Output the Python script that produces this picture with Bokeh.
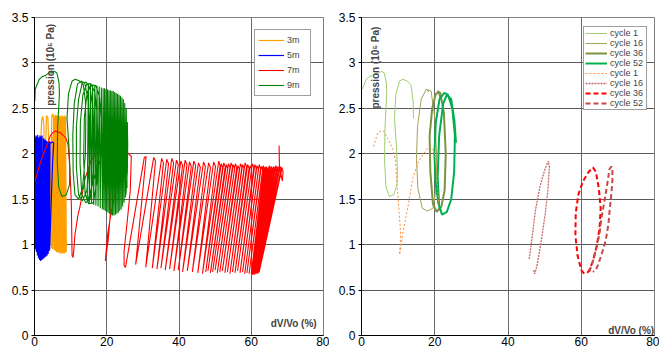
import math
from bokeh.plotting import figure
from bokeh.models import Range1d, Label, Legend, LegendItem, FixedTicker
from bokeh.layouts import row
from bokeh.embed import file_html
from bokeh.resources import INLINE

FONT = "Liberation Sans"

# ---------------- axes ----------------
x_ticks = [0, 20, 40, 60, 80]
x_tick_labels = ["0", "20", "40", "60", "80"]
y_ticks = [0, 0.5, 1, 1.5, 2, 2.5, 3, 3.5]
y_tick_labels = ["0", "0.5", "1", "1.5", "2", "2.5", "3", "3.5"]

# ---------------- left panel : depth series ----------------
m3_x = [1.5, 1.8, 2.0, 2.3, 2.6, 2.7, 2.9,
        3.0, 3.3, 3.7, 4.0, 4.3,
        4.5, 4.8, 5.1, 5.4, 5.4, 5.0, 4.5, 4.7, 4.9, 5.1,
        5.3, 5.5, 5.6, 5.8, 5.9, 6.1, 6.2, 6.4, 6.5, 6.7, 6.8, 7.0, 7.1, 7.3, 7.4, 7.6, 7.7, 7.9,
        8.0, 8.2, 8.3, 8.5, 8.6, 8.8, 8.8]
m3_p = [1.30, 2.20, 2.38, 2.41, 2.30, 1.60, 1.00,
        1.90, 2.42, 2.40, 2.00, 1.00,
        1.80, 2.42, 2.44, 2.35, 1.20, 0.95, 2.00, 0.96, 2.20, 0.95,
        2.40, 0.94, 2.42, 0.93, 2.43, 0.92, 2.42, 0.91, 2.42, 0.92, 2.41, 0.90, 2.42, 0.91, 2.41, 0.90, 2.42, 0.91,
        2.41, 0.90, 2.42, 0.91, 2.41, 0.92, 1.05]

m5_x = [0.1, 0.2, 0.3, 0.4, 0.5, 0.7, 0.8, 0.9, 1.1, 1.2, 1.4, 1.5, 1.7, 1.8, 2.0, 2.1, 2.3, 2.5,
        2.6, 2.8, 2.9, 3.1, 3.2, 3.4, 3.5, 3.7, 3.8, 4.0, 4.1, 4.3, 4.6, 5.0, 5.3, 5.0, 4.4, 4.2]
m5_p = [0.96, 2.18, 0.95, 2.20, 0.92, 2.19, 0.88, 2.21, 0.85, 2.18, 0.83, 2.20, 0.82, 2.19, 0.83, 2.20, 0.84, 2.17,
        0.85, 2.16, 0.86, 2.15, 0.87, 2.14, 0.88, 2.13, 0.90, 2.14, 0.93, 2.13, 2.12, 2.13, 2.12, 1.90, 1.20, 0.95]

# 7m: first loadings (continuous trace, cycles 1-3)
m7_head_x = [0.1, 0.6, 1.2, 2.1, 2.8, 3.5, 4.4, 5.2, 5.8, 6.5, 7.2, 8.0, 8.6, 9.3, 9.6, 9.9, 10.2, 10.3,
             10.4, 10.7, 10.9, 11.2, 12.0, 12.6, 14.0, 15.6, 17.5, 18.5, 19.4, 20.3, 20.8, 21.0, 20.4, 19.6,
             20.2, 21.0, 22.5, 23.8, 25.0, 25.8, 26.8, 26.5, 25.6, 24.8, 24.8]
m7_head_p = [1.70, 1.76, 1.85, 1.96, 2.03, 2.10, 2.20, 2.24, 2.25, 2.24, 2.23, 2.20, 2.18, 2.10, 1.95, 1.75, 1.45, 1.15,
             0.88, 0.86, 0.95, 1.11, 1.32, 1.42, 1.73, 1.92, 2.03, 2.09, 2.05, 1.95, 1.62, 1.34, 1.05, 0.82,
             1.10, 1.30, 1.60, 1.78, 1.95, 2.01, 1.97, 1.59, 1.23, 0.93, 0.77]
# 7m: following cycles -- bottom (start of reloading), peak, and end of the flat top of each cycle
m7_bot_x = [25.2, 28.0, 30.8, 32.6, 33.9, 35.0, 36.2, 37.4, 38.6, 39.8, 41.0, 42.3, 43.7, 45.2, 46.5,
            47.4, 48.0, 48.7, 49.3, 50.0, 50.6, 51.3, 52.0, 52.7, 53.4, 54.1, 54.8, 55.5, 56.2, 56.9, 57.6,
            58.2, 58.8, 59.4,
            60.0, 60.2, 60.3, 60.5, 60.6, 60.8, 60.9, 61.1, 61.2, 61.4, 61.5, 61.6, 61.8, 61.9, 62.0, 62.1, 62.2]
m7_bot_p = [0.75, 0.78, 0.75, 0.74, 0.73, 0.74, 0.72, 0.73, 0.71, 0.72, 0.70, 0.71, 0.70, 0.69, 0.68,
            0.70, 0.71, 0.69, 0.70, 0.72, 0.69, 0.70, 0.71, 0.69, 0.70, 0.68, 0.70, 0.69, 0.71, 0.69, 0.70,
            0.68, 0.69, 0.68,
            0.68, 0.67, 0.68, 0.67, 0.68, 0.69, 0.67, 0.68, 0.70, 0.68, 0.69, 0.70, 0.68, 0.70, 0.69, 0.71, 0.70]
m7_top_x = [30.4, 33.0, 35.2, 36.6, 38.0, 39.3, 40.5, 41.7, 42.9, 44.1, 45.4, 46.8, 48.2, 49.6, 51.0,
            51.7, 52.4, 53.1, 53.7, 54.4, 55.0, 55.6, 56.3, 57.0, 57.6, 58.3, 59.0, 59.7, 60.3, 61.0, 61.6,
            62.2, 62.8, 63.3,
            63.5, 63.8, 64.1, 64.4, 64.7, 65.0, 65.3, 65.6, 65.9, 66.2, 66.5, 66.8, 67.1, 67.4, 67.7, 68.0, 68.5]
m7_top_p = [1.96, 1.96, 1.95, 1.94, 1.95, 1.93, 1.92, 1.93, 1.91, 1.92, 1.90, 1.91, 1.90, 1.91, 1.92,
            1.89, 1.90, 1.88, 1.89, 1.90, 1.88, 1.89, 1.87, 1.89, 1.88, 1.90, 1.88, 1.87, 1.89, 1.88, 1.87,
            1.88, 1.86, 1.87,
            1.84, 1.85, 1.86, 1.84, 1.85, 1.87, 1.85, 1.86, 1.84, 1.86, 1.85, 1.87, 1.85, 1.86, 1.84, 1.86, 1.85]
m7_shoulder_x = [30.9, 33.5, 35.7, 37.1, 38.5, 39.8, 41.0, 42.2, 43.4, 44.6, 45.9, 47.3, 48.7, 50.1, 51.4,
                 52.1, 52.8, 53.5, 54.1, 54.8, 55.4, 56.0, 56.7, 57.4, 58.0, 58.7, 59.4, 60.1, 60.7, 61.4, 62.0,
                 62.6, 63.2, 63.7,
                 63.9, 64.2, 64.5, 64.8, 65.1, 65.4, 65.7, 66.0, 66.3, 66.6, 66.9, 67.2, 67.5, 67.8, 68.1, 68.4, 68.8]
m7_shoulder_p = [1.97, 1.92, 1.90, 1.89, 1.90, 1.88, 1.87, 1.88, 1.86, 1.87, 1.85, 1.86, 1.85, 1.86, 1.87,
                 1.85, 1.86, 1.84, 1.85, 1.86, 1.84, 1.85, 1.83, 1.85, 1.84, 1.86, 1.84, 1.83, 1.85, 1.84, 1.83,
                 1.84, 1.82, 1.83,
                 1.80, 1.81, 1.82, 1.80, 1.81, 1.83, 1.81, 1.82, 1.80, 1.82, 1.81, 1.83, 1.81, 1.82, 1.80, 1.82, 1.80]
m7_tail_x = [68.6, 67.8, 67.7, 67.8]
m7_tail_p = [1.70, 1.86, 2.09, 1.90]

# 9m cycle 1 (shared with right panel)
c1_9m_x = [0.2, 1.3, 2.2, 3.0, 4.0, 4.9, 5.4, 6.2, 6.8, 6.9, 6.4, 6.3, 6.7, 7.6, 8.8, 9.7, 9.8, 9.5,
           9.0, 9.4, 10.4, 11.3, 12.5, 13.5, 14.1, 14.2]
c1_9m_p = [2.71, 2.82, 2.85, 2.86, 2.89, 2.89, 2.91, 2.89, 2.78, 2.66, 2.28, 1.92, 1.63, 1.53, 1.55, 1.66, 1.84, 2.10,
           2.39, 2.66, 2.80, 2.82, 2.80, 2.76, 2.58, 2.39]
m9_start_x = [0.1]
m9_start_p = [2.58]
m9_loops_x = [14.1, 13.3, 12.2, 11.2, 10.7, 10.6, 11.0, 11.9, 12.9, 13.9, 14.8, 15.3,
              15.2, 14.5, 13.3, 12.2, 11.6, 11.6, 12.2, 13.2, 14.3, 15.4, 16.2, 16.5,
              16.3, 15.4, 14.2, 13.1, 12.6, 12.7, 13.4, 14.5, 15.6, 16.7, 17.3, 17.6,
              17.3, 16.3, 15.0, 14.0, 13.6, 13.8, 14.6, 15.8, 17.0, 18.0, 18.5, 18.6]
m9_loops_p = [2.00, 1.62, 1.50, 1.55, 1.80, 2.20, 2.55, 2.77, 2.80, 2.78, 2.60, 2.30,
              1.90, 1.60, 1.48, 1.55, 1.85, 2.30, 2.60, 2.78, 2.79, 2.72, 2.50, 2.20,
              1.80, 1.50, 1.46, 1.55, 1.90, 2.35, 2.65, 2.77, 2.77, 2.68, 2.45, 2.10,
              1.70, 1.46, 1.45, 1.56, 1.95, 2.40, 2.68, 2.76, 2.75, 2.62, 2.35, 2.00]
m9_dense_x = [14.6, 14.9, 15.2, 15.5, 15.8, 16.1, 16.4, 16.7, 17.0, 17.3, 17.6, 17.9, 18.2, 18.5, 18.8,
              19.0, 19.2, 19.4, 19.6, 19.8, 20.0, 20.2, 20.4, 20.6, 20.8, 21.0, 21.2, 21.4, 21.6, 21.8,
              22.0, 22.2, 22.4, 22.6, 22.8, 23.0, 23.2, 23.4, 23.6, 23.8, 24.0, 24.2, 24.4, 24.6, 24.8,
              25.0, 25.2, 25.4, 25.6, 25.7, 25.8, 25.7, 25.3]
m9_dense_p = [1.47, 2.77, 1.46, 2.77, 1.45, 2.76, 1.44, 2.76, 1.43, 2.75, 1.42, 2.74, 1.40, 2.73, 1.39,
              2.72, 1.38, 2.72, 1.37, 2.71, 1.36, 2.71, 1.35, 2.70, 1.34, 2.70, 1.33, 2.69, 1.32, 2.69,
              1.32, 2.68, 1.33, 2.67, 1.34, 2.66, 1.35, 2.65, 1.37, 2.64, 1.39, 2.62, 1.42, 2.60, 1.46,
              2.56, 1.52, 2.50, 1.62, 2.35, 2.10, 1.80, 1.55]

depth_labels = ["3m", "5m", "7m", "9m"]
depth_colors = ["#FFA000", "#0000FF", "#FF0000", "#008000"]

# ---------------- right panel : selected cycles ----------------
g16_x = [17.7, 19.0, 20.0, 20.5, 20.3, 19.5, 18.0, 16.6, 15.4, 15.0, 15.3, 16.3, 17.7, 18.4]
g16_p = [2.71, 2.69, 2.40, 2.00, 1.60, 1.40, 1.37, 1.40, 1.62, 1.95, 2.30, 2.60, 2.71, 2.68]
g36_x = [20.7, 21.5, 22.5, 23.0, 22.7, 21.8, 20.5, 19.5, 18.8, 18.6, 19.3, 20.3, 21.2, 21.6]
g36_p = [2.69, 2.67, 2.45, 2.00, 1.60, 1.42, 1.36, 1.45, 1.80, 2.20, 2.50, 2.66, 2.68, 2.60]
g52_x = [21.8, 21.0, 20.2, 19.9, 20.3, 21.3, 22.6, 23.6, 24.8, 25.5, 25.3, 24.5, 23.3, 22.0, 21.2, 20.8,
         21.2, 22.3, 23.3, 24.5, 25.4, 25.8]
g52_p = [1.36, 1.45, 1.70, 2.00, 2.35, 2.60, 2.67, 2.65, 2.50, 2.20, 1.80, 1.50, 1.36, 1.33, 1.42, 1.75,
         2.20, 2.55, 2.65, 2.60, 2.35, 2.12]
r1_x = [3.3, 4.4, 5.2, 6.0, 7.1, 8.5, 9.3, 9.8, 10.2, 10.7, 10.4, 11.2, 12.6, 14.0, 15.6, 17.5, 18.4, 19.4,
        20.3, 20.8, 21.1]
r1_p = [2.08, 2.23, 2.25, 2.25, 2.17, 2.06, 1.92, 1.62, 1.40, 1.11, 0.89, 1.11, 1.40, 1.73, 1.92, 2.03, 2.08, 2.05,
        1.95, 1.62, 1.44]
r16_x = [45.8, 46.5, 47.5, 48.8, 50.0, 51.0, 51.3, 50.9, 50.2, 49.3, 48.5, 47.8, 47.3, 47.0]
r16_p = [0.84, 1.05, 1.38, 1.65, 1.82, 1.92, 1.86, 1.60, 1.35, 1.10, 0.90, 0.75, 0.68, 0.72]
r36_x = [60.8, 60.0, 59.0, 58.4, 58.5, 59.2, 60.5, 62.0, 63.2, 64.0, 64.8, 65.3, 65.0, 64.2, 63.2, 62.2, 61.5]
r36_p = [0.68, 0.72, 0.88, 1.10, 1.35, 1.55, 1.70, 1.80, 1.85, 1.80, 1.62, 1.40, 1.18, 0.98, 0.82, 0.72, 0.68]
r52_x = [62.2, 63.2, 64.1, 65.0, 65.5, 66.2, 66.8, 67.3, 67.7, 68.2, 68.5, 68.5, 68.2, 67.8, 67.4, 66.7, 66.0,
         65.5, 64.8, 64.1, 63.2]
r52_p = [0.70, 0.82, 0.96, 1.12, 1.29, 1.45, 1.59, 1.72, 1.83, 1.86, 1.84, 1.70, 1.55, 1.40, 1.22, 1.05, 0.95,
         0.89, 0.80, 0.73, 0.70]

cycle_labels = ["cycle 1", "cycle 16", "cycle 36", "cycle 52", "cycle 1", "cycle 16", "cycle 36", "cycle 52"]
cycle_colors = ["#9FCD72", "#A3A35E", "#7A9440", "#00B050", "#FF8C3A", "#C46A6A", "#FF0000", "#C84848"]
cycle_widths = [1, 1, 2, 2, 1, 1.3, 2, 2]
cycle_dashes = ["solid", "solid", "solid", "solid", "2 2", "2 1", "5 3", "5 3"]

# ---------------- build traces ----------------
m7_x = list(m7_head_x)
m7_p = list(m7_head_p)
for bx, bp, tx, tp, sx, sp in zip(m7_bot_x, m7_bot_p, m7_top_x, m7_top_p, m7_shoulder_x, m7_shoulder_p):
    m7_x += [bx, tx, sx]
    m7_p += [bp, tp, sp]
m7_x += m7_tail_x
m7_p += m7_tail_p

m9_x = m9_start_x + c1_9m_x + m9_loops_x + m9_dense_x
m9_p = m9_start_p + c1_9m_p + m9_loops_p + m9_dense_p


def make_fig(width, left, right):
    p = figure(width=width, height=354, x_range=Range1d(0, 80), y_range=Range1d(0, 3.5),
               output_backend="svg", toolbar_location=None,
               min_border_left=left, min_border_right=right, min_border_top=17, min_border_bottom=19)
    p.xaxis.ticker = FixedTicker(ticks=x_ticks)
    p.yaxis.ticker = FixedTicker(ticks=y_ticks)
    p.xgrid.ticker = FixedTicker(ticks=x_ticks)
    p.ygrid.ticker = FixedTicker(ticks=y_ticks)
    p.xaxis.major_label_overrides = dict(zip(x_ticks, x_tick_labels))
    p.yaxis.major_label_overrides = dict(zip(y_ticks, y_tick_labels))
    p.axis.major_label_text_font = FONT
    p.axis.major_label_text_font_size = "12px"
    p.axis.major_label_text_color = "black"
    p.axis.axis_line_color = "black"
    p.axis.major_tick_line_color = "black"
    p.axis.minor_tick_line_color = None
    p.axis.major_tick_in = 0
    p.xaxis.major_tick_out = 0
    p.yaxis.major_tick_out = 3
    p.xaxis.major_label_standoff = 1
    p.yaxis.major_label_standoff = 3
    p.xgrid.grid_line_color = "#6a6a6a"
    p.ygrid.grid_line_color = "#5a5a5a"
    p.outline_line_color = "#808080"
    p.background_fill_color = "white"
    p.border_fill_color = "white"
    return p


def style_legend(leg, loc, pad, spacing, lh, gw, lw, fs):
    leg.location = loc
    leg.label_text_font = FONT
    leg.label_text_font_size = fs
    leg.border_line_color = "#404040"
    leg.border_line_width = 1
    leg.padding = pad
    leg.spacing = spacing
    leg.label_height = lh
    leg.glyph_height = lh
    leg.glyph_width = gw
    leg.label_width = lw
    leg.label_standoff = 3
    leg.margin = 0
    leg.background_fill_color = "white"
    leg.background_fill_alpha = 1


# ---------------- left figure ----------------
p1 = make_fig(329, 34, 6)
series = [(m3_x, m3_p, 1.2), (m5_x, m5_p, 1.2), (m7_x, m7_p, 1.1), (m9_x, m9_p, 1.1)]
items1 = []
for (xs, ps, w), lab, col in zip(series, depth_labels, depth_colors):
    r = p1.line(xs, ps, line_color=col, line_width=w)
    items1.append(LegendItem(label=lab, renderers=[r]))
leg1 = Legend(items=items1)
style_legend(leg1, (220, 239), 3, 1, 14, 26, 20, "9px")
p1.add_layout(leg1)
p1.add_layout(Label(x=4.5, y=3.43, text="pression (10\u2075 Pa)", angle=math.pi / 2,
                    text_align="right", text_baseline="middle", text_font=FONT,
                    text_font_size="10px", text_font_style="bold"))
p1.add_layout(Label(x=78.1, y=0.13, text="dV/Vo (%)", text_align="right", text_baseline="middle",
                    text_font=FONT, text_font_size="10px", text_font_style="bold"))

# ---------------- right figure ----------------
p2 = make_fig(330, 32, 5)
cycles = [(c1_9m_x, c1_9m_p), (g16_x, g16_p), (g36_x, g36_p), (g52_x, g52_p),
          (r1_x, r1_p), (r16_x, r16_p), (r36_x, r36_p), (r52_x, r52_p)]
items2 = []
for (xs, ps), lab, col, w, d in zip(cycles, cycle_labels, cycle_colors, cycle_widths, cycle_dashes):
    r = p2.line(xs, ps, line_color=col, line_width=w, line_dash=d)
    items2.append(LegendItem(label=lab, renderers=[r]))
leg2 = Legend(items=items2)
style_legend(leg2, (222, 225), 1, 0, 10, 22, 35, "9px")
p2.add_layout(leg2)
p2.add_layout(Label(x=3.7, y=3.40, text="pression (10\u2075 Pa)", angle=math.pi / 2,
                    text_align="right", text_baseline="middle", text_font=FONT,
                    text_font_size="10px", text_font_style="bold"))
p2.add_layout(Label(x=79.9, y=0.06, text="dV/Vo (%)", text_align="right", text_baseline="middle",
                    text_font=FONT, text_font_size="10px", text_font_style="bold"))

layout = row(p1, p2, spacing=0)
open("out.html", "w").write(file_html(layout, INLINE))
